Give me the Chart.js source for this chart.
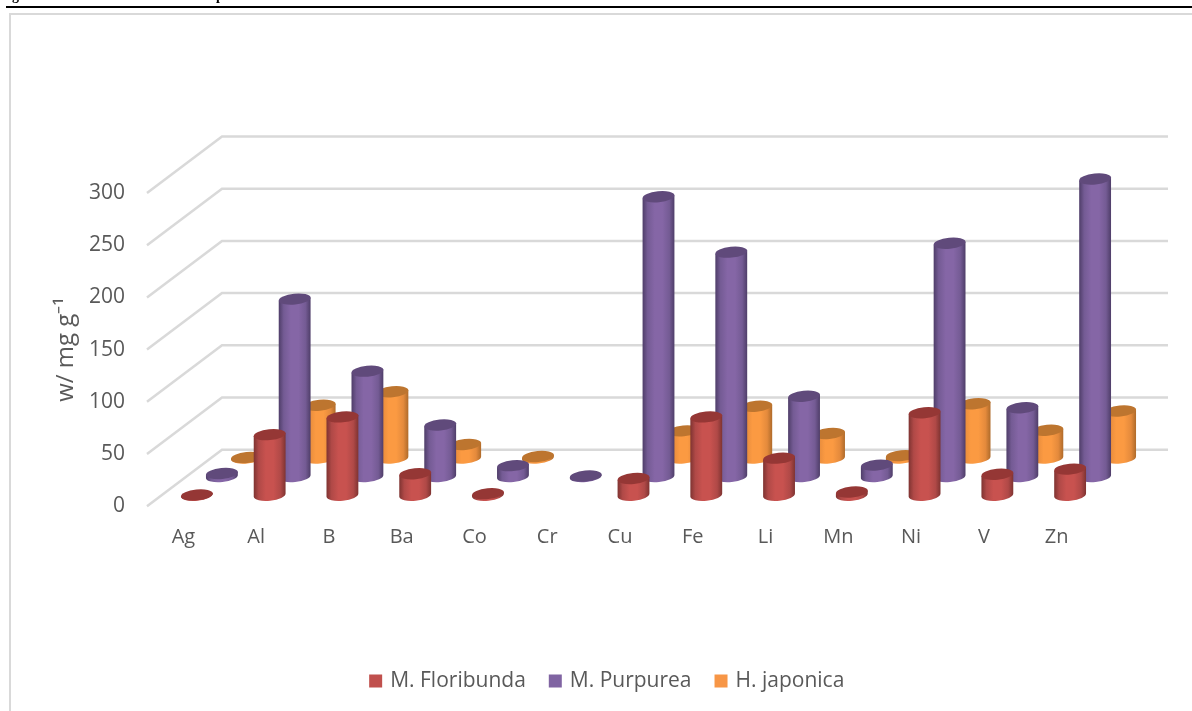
<!DOCTYPE html>
<html>
<head>
<meta charset="utf-8">
<style>
html,body{margin:0;padding:0;background:#fff;overflow:hidden}
canvas{display:block}
</style>
<script src="https://cdn.jsdelivr.net/npm/chart.js@4"></script>
</head>
<body>
<canvas id="c" width="1192" height="711"></canvas>
<script>
const categories = ['Ag','Al','B','Ba','Co','Cr','Cu','Fe','Li','Mn','Ni','V','Zn'];
const floribunda = [0.3,58,75,20.5,1.5,0,16,75,35.5,3,79,20,25];
const purpurea   = [3,170,101,49.5,10.5,0.5,268,215,77,11,223.5,66,285];
const japonica   = [0.5,50.5,63.5,13,1.5,0,26,49.5,23.5,2.3,52,26.5,45];
const seriesNames = ['M. Floribunda','M. Purpurea','H. japonica'];
const yTicks = [0,50,100,150,200,250,300];

const DEPTH_X = 75, DEPTH_Y = 56.5;
const seriesDepth = [{dx:13.5,dy:11},{dx:38.5,dy:29.6},{dx:63.5,dy:48.2}];
const seriesPaint = [
  {base:'#C0504D', glow:'#C8524F', mid:'#B04947', edge:'#7E3331', cap:'#953735'},
  {base:'#8064A2', glow:'#8566A6', mid:'#745B94', edge:'#4E3D68', cap:'#604A7B'},
  {base:'#F79646', glow:'#FB9A42', mid:'#E48A3C', edge:'#AE6A2A', cap:'#BD752F'}
];
const RY = 5.5, TILT = -0.1;

function ellipsePoint(cx,cy,rx,ang){
  const px = rx*Math.cos(ang), py = RY*Math.sin(ang);
  return [cx+px*Math.cos(TILT)-py*Math.sin(TILT), cy+px*Math.sin(TILT)+py*Math.cos(TILT)];
}

const cylinders = {
  id:'cylinders',
  beforeDatasetDraw(chart,args){
    const ctx = chart.ctx, d = seriesDepth[args.index], p = seriesPaint[args.index];
    const values = chart.data.datasets[args.index].data;
    args.meta.data.forEach((el,i)=>{
      if(!values[i]) return;
      const cx = el.x+d.dx, top = el.y-d.dy, bot = el.base-d.dy, rx = el.width/2;
      const g = ctx.createLinearGradient(cx-rx,0,cx+rx,0);
      g.addColorStop(0,p.edge); g.addColorStop(0.16,p.mid); g.addColorStop(0.38,p.glow);
      g.addColorStop(0.62,p.glow); g.addColorStop(0.84,p.mid); g.addColorStop(1,p.edge);
      const a = ellipsePoint(cx,top,rx,Math.PI), b = ellipsePoint(cx,bot,rx,Math.PI), c = ellipsePoint(cx,top,rx,0);
      ctx.save();
      ctx.beginPath();
      ctx.moveTo(a[0],a[1]); ctx.lineTo(b[0],b[1]);
      ctx.ellipse(cx,bot,rx,RY,TILT,Math.PI,0,true);
      ctx.lineTo(c[0],c[1]); ctx.closePath();
      ctx.fillStyle = g; ctx.fill();
      ctx.beginPath();
      ctx.ellipse(cx,top,rx,RY,TILT,0,Math.PI*2);
      ctx.fillStyle = p.cap; ctx.fill();
      ctx.restore();
    });
    return false;
  }
};

const walls = {
  id:'walls',
  beforeDatasetsDraw(chart){
    const ctx = chart.ctx, y = chart.scales.y, x = chart.scales.x;
    ctx.save();
    ctx.strokeStyle='#D9D9D9'; ctx.lineWidth=2.5; ctx.lineJoin='miter';
    yTicks.forEach(v=>{
      const py = y.getPixelForValue(v);
      ctx.beginPath();
      ctx.moveTo(x.left,py);
      ctx.lineTo(x.left+DEPTH_X,py-DEPTH_Y);
      ctx.lineTo(x.right+DEPTH_X,py-DEPTH_Y);
      ctx.stroke();
    });
    ctx.restore();
  }
};

const page = {
  id:'page',
  beforeDraw(chart){
    const ctx = chart.ctx;
    ctx.save();
    ctx.fillStyle='#fff'; ctx.fillRect(0,0,1192,711);
    ctx.fillStyle='#000'; ctx.fillRect(6,6,1186,2);
    ctx.fillStyle='#D9D9D9'; ctx.fillRect(9,13,1183,2); ctx.fillRect(9,13,2,698);
    ctx.fillStyle='#000'; ctx.font='bold 14px "Liberation Serif"';
    ctx.textBaseline='alphabetic';
    ctx.fillText('g',12,0); ctx.fillText('p',216,0);
    ctx.restore();
  }
};

const fontOf = s => ({family:'"Open Sans"',size:s});
new Chart(document.getElementById('c'),{
  type:'bar',
  data:{
    labels:categories,
    datasets:[floribunda,purpurea,japonica].map((data,i)=>({
      label:seriesNames[i], data,
      backgroundColor:seriesPaint[i].base,
      grouped:false, barThickness:32, clip:false
    }))
  },
  options:{
    responsive:false, animation:false,
    layout:{padding:{left:24,top:193,right:0,bottom:9.5}},
    plugins:{
      tooltip:{enabled:false},
      legend:{position:'bottom',labels:{usePointStyle:true,pointStyle:'rect',boxWidth:8,boxHeight:13,padding:25.5,color:'#595959',font:fontOf(21)}}
    },
    scales:{
      x:{
        grid:{display:false},border:{display:false},
        ticks:{color:'#595959',font:fontOf(20),padding:11.3,maxRotation:0,autoSkip:false},
        afterFit(s){s.height=138.8;}
      },
      y:{
        min:0,max:300,
        grid:{display:false},border:{display:false},
        ticks:{color:'#595959',font:fontOf(21),padding:14,stepSize:50},
        title:{display:true,text:'w/ mg g⁻¹',color:'#595959',font:fontOf(24),padding:{top:28,bottom:0}},
        afterFit(s){s.width=123;}
      },
      spacer:{
        position:'right',display:true,grid:{display:false},border:{display:false},
        ticks:{display:false},
        afterFit(s){s.width=99;}
      }
    }
  },
  plugins:[page,walls,cylinders]
});
</script>
</body>
</html>
